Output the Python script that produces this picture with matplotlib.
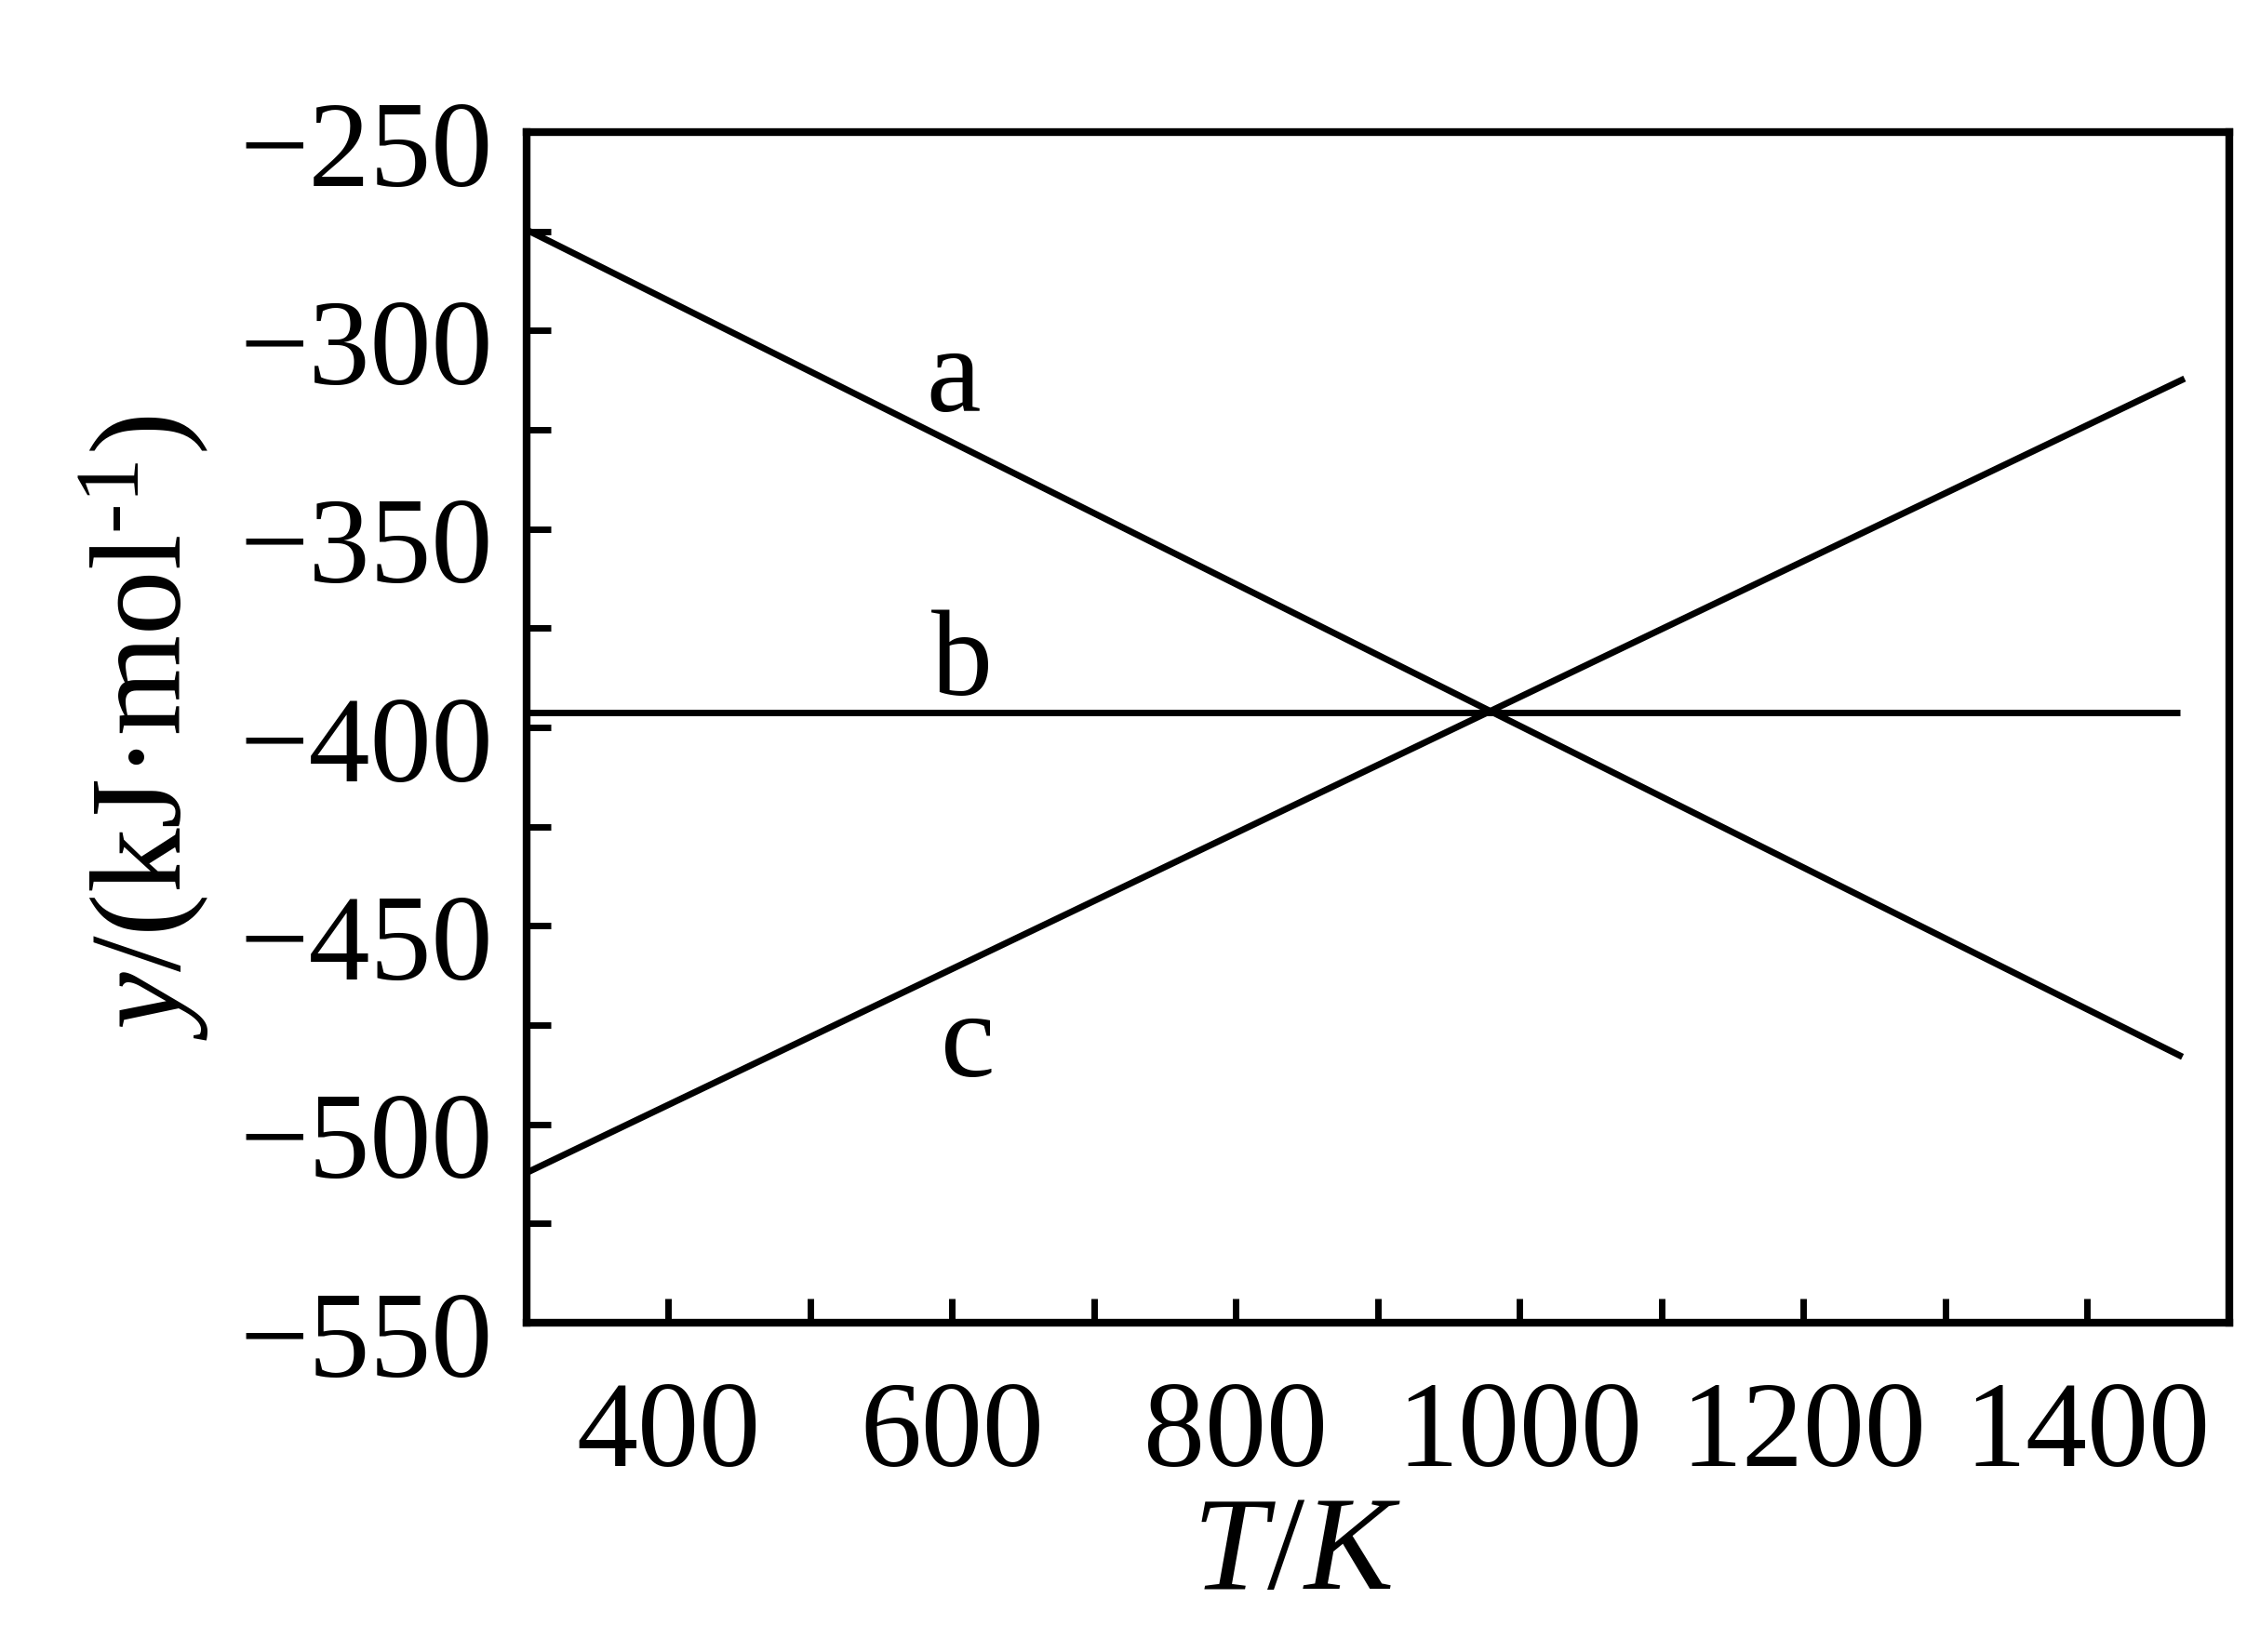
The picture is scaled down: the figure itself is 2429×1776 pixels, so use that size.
import matplotlib
matplotlib.use("Agg")
import matplotlib.pyplot as plt
from matplotlib.ticker import MultipleLocator
from matplotlib.transforms import ScaledTranslation

plt.rcParams['font.family'] = ['Liberation Serif', 'DejaVu Serif']
plt.rcParams['mathtext.fontset'] = 'custom'
plt.rcParams['mathtext.rm'] = 'Liberation Serif'
plt.rcParams['mathtext.it'] = 'Liberation Serif:italic'

# lines: (T in K, y in kJ/mol)
T_a = [300, 1467]
y_a = [-274.6, -483.0]
T_b = [300, 1465]
y_b = [-396.2, -396.2]
T_c = [300, 1468.5]
y_c = [-512.2, -312.1]

line_names = ["a", "b", "c"]

x_major = [400, 600, 800, 1000, 1200, 1400]
y_major = [-550, -500, -450, -400, -350, -300, -250]

fig = plt.figure(figsize=(24.29, 17.76), dpi=100)
ax = fig.add_axes([0.2330, 0.1993, 0.9864 - 0.2330, 0.9200 - 0.1993])

ax.plot(T_a, y_a, color="black", lw=5, solid_capstyle="butt")
ax.plot(T_b, y_b, color="black", lw=5, solid_capstyle="butt")
ax.plot(T_c, y_c, color="black", lw=5, solid_capstyle="butt")

# curve names
ax.text(601, -320.2, line_names[0], fontsize=95, ha="center", va="baseline")
ax.text(607, -391.7, line_names[1], fontsize=95, ha="center", va="baseline")
ax.text(611, -487.9, line_names[2], fontsize=95, ha="center", va="baseline")

ax.set_xlim(300, 1500)
ax.set_ylim(-550, -250)

ax.set_xticks(x_major)
ax.xaxis.set_minor_locator(MultipleLocator(100))
ax.set_yticks(y_major)
ax.yaxis.set_minor_locator(MultipleLocator(25))

ax.tick_params(which="both", direction="in", top=False, right=False,
               length=19, width=5, color="black")
ax.tick_params(axis="x", which="major", labelsize=95, pad=45)
ax.tick_params(axis="y", which="major", labelsize=95, pad=26)

for lab in ax.get_yticklabels():
    lab.set_transform(lab.get_transform() + ScaledTranslation(0, -0.12, fig.dpi_scale_trans))

for sp in ax.spines.values():
    sp.set_linewidth(6)

ax.set_xlabel(r"$T$/$K$", fontsize=104, va="top")
ax.xaxis.set_label_coords(0.4525, -0.1453)
ax.set_ylabel(r"$y$/(kJ·mol$^{\text{-1}}$)", fontsize=100, va="center")
ax.yaxis.set_label_coords(-0.2246, 0.5)

fig.savefig("out.png", dpi=100)
